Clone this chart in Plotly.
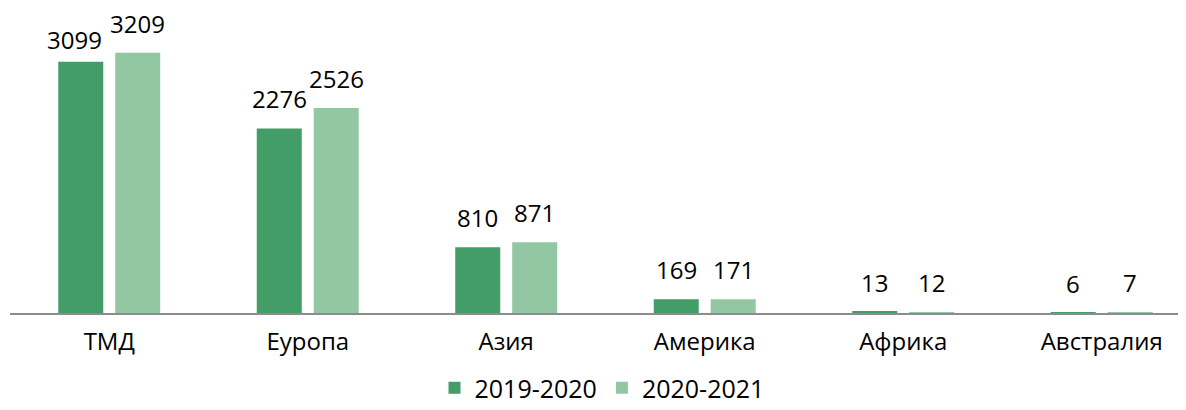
import plotly.graph_objects as go

categories = ["ТМД", "Еуропа", "Азия", "Америка", "Африка", "Австралия"]
series_names = ["2019-2020", "2020-2021"]
values_2019_2020 = [3099, 2276, 810, 169, 13, 6]
values_2020_2021 = [3209, 2526, 871, 171, 12, 7]

colors = ["#439d66", "#93c6a2"]
FONT = "Open Sans"

W, H = 1186, 410
ML, MR, MT, MB = 2, 0, 13, 105
X_RANGE = [-0.5, 5.465]
Y_RANGE = [0, 3600]
BARGAP, BARGROUPGAP = 0.426, 0.21
LABEL_SIZE = 24

fig = go.Figure()
all_series = [values_2019_2020, values_2020_2021]
for name, vals, col in zip(series_names, all_series, colors):
    fig.add_trace(go.Bar(
        x=categories, y=vals, name=name,
        marker=dict(color=col, line=dict(width=0)),
        hoverinfo="x+y+name",
    ))

# data labels above each bar, placed through the axes
px_per_cat = (W - ML - MR) / (X_RANGE[1] - X_RANGE[0])
px_per_unit = (H - MT - MB) / (Y_RANGE[1] - Y_RANGE[0])
slot = px_per_cat * (1 - BARGAP) / len(all_series)
text_h = 19
for j, c in enumerate(categories):
    a, b = values_2019_2020[j], values_2020_2021[j]
    wa = 0.57 * LABEL_SIZE * len(str(a))
    wb = 0.57 * LABEL_SIZE * len(str(b))
    collide = (wa + wb) / 2 > slot - 4 and abs(a - b) * px_per_unit < text_h
    for i, v in enumerate((a, b)):
        offset = (i - 0.5) * slot
        ys = 11
        if collide and i == 0:
            offset -= 6
            ys = 4
        fig.add_annotation(
            x=c, y=v, xref="x", yref="y", text=str(v), showarrow=False,
            xanchor="center", yanchor="bottom", xshift=offset, yshift=ys,
            font=dict(family=FONT, size=LABEL_SIZE, color="#000000"),
        )

fig.update_layout(
    width=W, height=H,
    margin=dict(l=ML, r=MR, t=MT, b=MB),
    paper_bgcolor="white", plot_bgcolor="white",
    barmode="group", bargap=BARGAP, bargroupgap=BARGROUPGAP,
    font=dict(family=FONT, size=24, color="#000000"),
    showlegend=True,
    legend=dict(orientation="h", x=0.5, xanchor="center", y=-0.257, yanchor="middle",
                font=dict(family=FONT, size=25, color="#000000"),
                tracegroupgap=0),
    xaxis=dict(range=X_RANGE, showline=True, linecolor="#8c8c8c", linewidth=2,
               ticks="", showgrid=False, ticklabelstandoff=6,
               tickfont=dict(family=FONT, size=24, color="#000000")),
    yaxis=dict(range=Y_RANGE, visible=False, showgrid=False),
)

fig.write_html("out.html")
